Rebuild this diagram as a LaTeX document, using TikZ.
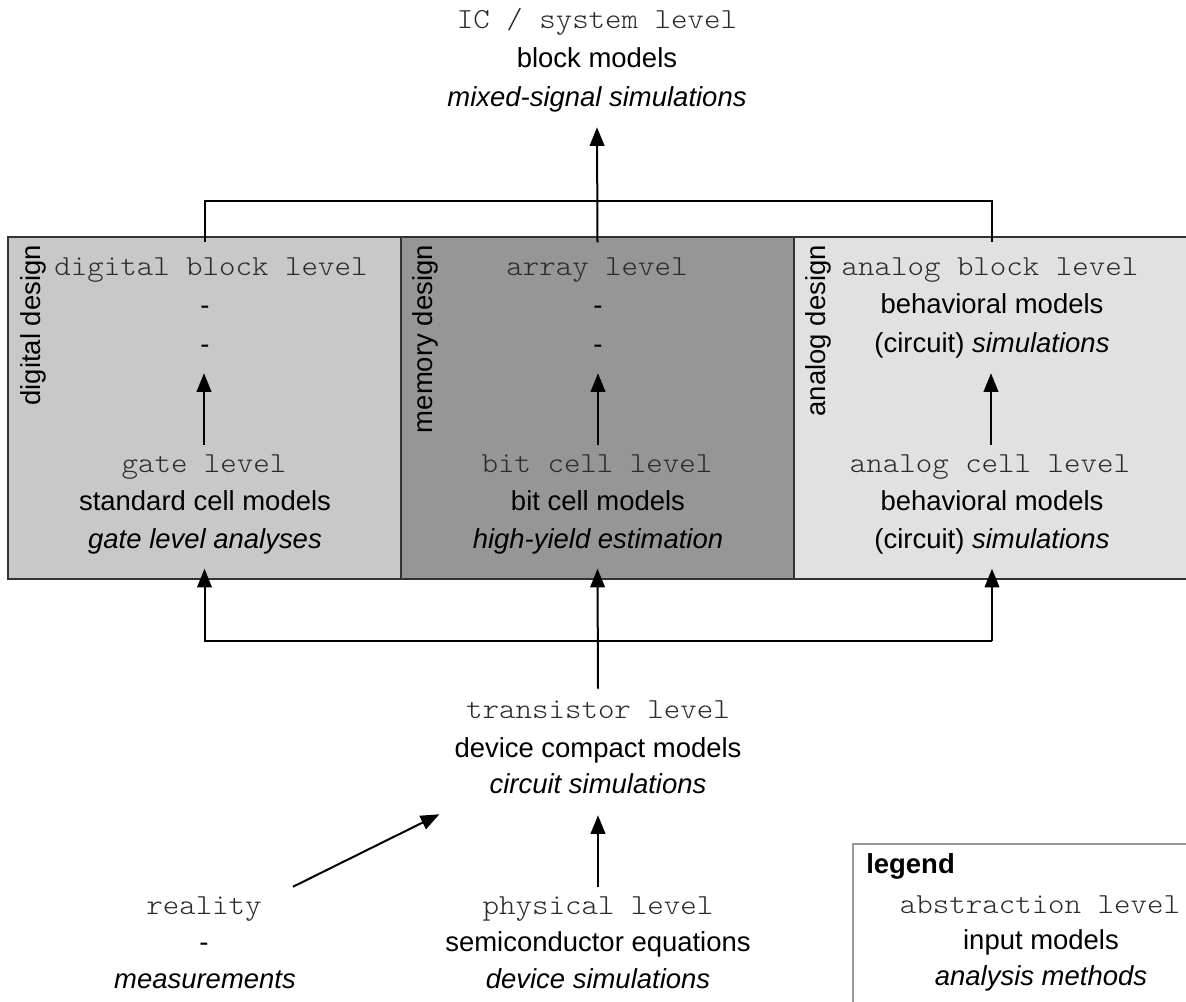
\documentclass[tikz,border=0pt]{standalone}
\usepackage{fontspec}
\setmainfont{Liberation Sans}
\newfontfamily\lvlfont{Latin Modern Mono Light}[FakeStretch=1.08]
\usetikzlibrary{arrows.meta,calc}
\definecolor{digfill}{HTML}{C8C8C8}
\definecolor{memfill}{HTML}{969696}
\definecolor{anafill}{HTML}{E1E1E1}
\definecolor{boxline}{HTML}{333333}
\definecolor{monocol}{HTML}{2A2A2A}
\definecolor{legline}{HTML}{999999}
\begin{document}
\begin{tikzpicture}[x=0.75pt,y=-0.75pt,
  txt/.style={inner sep=0pt, anchor=base, text height=14.25pt, text depth=4.5pt},
  lvl/.style={txt, font=\fontsize{21.8}{24}\lvlfont, text=monocol},
  mdl/.style={txt, font=\fontsize{20.6}{24}\selectfont},
  mth/.style={txt, font=\fontsize{20.6}{24}\selectfont\itshape},
  design/.style={inner sep=0pt, rotate=90, anchor=north east, font=\fontsize{20.6}{24}\selectfont},
  area/.style={draw=boxline, line width=1.1pt, minimum height=256.5pt, inner sep=0pt},
  conn/.style={line width=1.5pt},
  arr/.style={conn, -{Triangle[length=14pt,width=11pt]}},
]
\useasboundingbox (0,0) rectangle (1186,1001);

% design areas
\node[area, fill=anafill, minimum width=297pt] (ana) at (992,408) {};
\node[area, fill=memfill, minimum width=294.75pt] (mem) at (597.5,408) {};
\node[area, fill=digfill, minimum width=294.75pt] (dig) at (204.5,408) {};

\node[design] (dlab) at (20,245) {digital design};
\node[design] (mlab) at (412,245) {memory design};
\node[design] (alab) at (805,245) {analog design};

% IC / system level
\node[lvl] (ic1) at (597,28) {IC / system level};
\node[mdl] (ic2) at (597,67) {block models};
\node[mth] (ic3) at (597,106) {mixed-signal simulations};

% digital
\node[lvl] (db1) at (211,275) {digital block level};
\node[mdl] (db2) at (205,314) {-};
\node[mdl] (db3) at (205,353) {-};
\node[lvl] (gl1) at (204,472) {gate level};
\node[mdl] (gl2) at (205,510) {standard cell models};
\node[mth] (gl3) at (205,548) {gate level analyses};

% memory
\node[lvl] (ar1) at (597,275) {array level};
\node[mdl] (ar2) at (598,314) {-};
\node[mdl] (ar3) at (598,353) {-};
\node[lvl] (bc1) at (597,472) {bit cell level};
\node[mdl] (bc2) at (598,510) {bit cell models};
\node[mth] (bc3) at (598,548) {high-yield estimation};

% analog
\node[lvl] (ab1) at (990,275) {analog block level};
\node[mdl] (ab2) at (992,313) {behavioral models};
\node[mth] (ab3) at (992,352) {{\upshape(circuit)} simulations};
\node[lvl] (ac1) at (990,472) {analog cell level};
\node[mdl] (ac2) at (992,510) {behavioral models};
\node[mth] (ac3) at (992,548) {{\upshape(circuit)} simulations};

% transistor level
\node[lvl] (tr1) at (598,718) {transistor level};
\node[mdl] (tr2) at (598,757) {device compact models};
\node[mth] (tr3) at (598,793) {circuit simulations};

% physical level
\node[lvl] (ph1) at (598,914) {physical level};
\node[mdl] (ph2) at (598,951) {semiconductor equations};
\node[mth] (ph3) at (598,988) {device simulations};

% reality
\node[lvl] (re1) at (204,914) {reality};
\node[mdl] (re2) at (204,951) {-};
\node[mth] (re3) at (205,988) {measurements};

% legend
\draw[legline, line width=1pt] (1200,844) -| (853,1010);
\node[txt, anchor=base west, font=\fontsize{20.6}{24}\bfseries] (lg0) at (866,873) {legend};
\node[lvl] (lg1) at (1040,913) {abstraction level};
\node[mdl] (lg2) at (1041,949) {input models};
\node[mth] (lg3) at (1041,985) {analysis methods};

% connectors inside areas
\draw[arr] ($(gl1.north)+(0,-8)$) -- ($(db3.south)+(-1,14)$);
\draw[arr] ($(bc1.north)+(1,-8)$) -- ($(ar3.south)+(0,14)$);
\draw[arr] ($(ac1.north)+(1,-8)$) -- ($(ab3.south)+(-1,15)$);

% top tree
\draw[conn] ($(dig.north)+(0,6)$) |- ($(ana.north)+(0,-35)$) -- ($(ana.north)+(0,6)$);
\draw[arr] ($(mem.north)+(0,6)$) -- ($(ic3.south)+(0,15)$);

% bottom tree
\draw[arr] ($(tr1.north)+(0,-10)$) -- ($(mem.south)+(0,-11)$);
\draw[arr] ($(ana.south)+(0,61)$) -| ($(dig.south)+(0,-11)$);
\draw[arr] ($(ana.south)+(0,61)$) -- ($(ana.south)+(0,-11)$);

% lower arrows
\draw[arr] ($(ph1.north)+(0,-8)$) -- ($(tr3.south)+(0,16)$);
\draw[arr] ($(re1.north east)+(31,-8)$) -- ($(tr3.south west)+(-50,15)$);
\end{tikzpicture}
\end{document}
